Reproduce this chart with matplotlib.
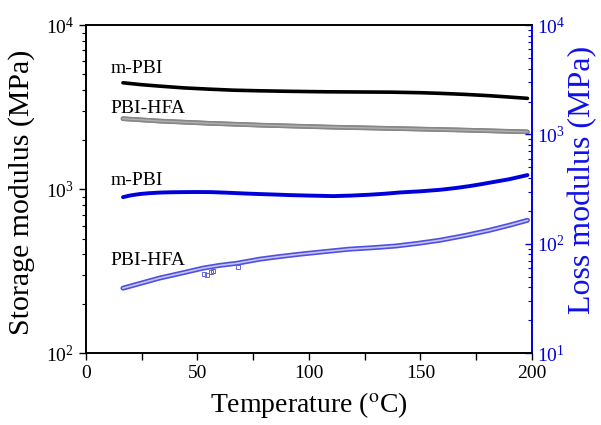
import matplotlib
matplotlib.use('Agg')
import matplotlib.pyplot as plt
import matplotlib.patheffects as pe
from matplotlib.ticker import LogLocator, FixedLocator, NullFormatter

plt.rcParams['font.family'] = 'Liberation Serif'
plt.rcParams['mathtext.fontset'] = 'stix'

# storage modulus (MPa), left axis
T_storage = [16.6, 25, 33, 44, 55, 66, 78, 92, 108, 122, 137, 150, 159, 170, 181, 190, 198]
E_mpbi = [4450, 4330, 4245, 4140, 4070, 4010, 3975, 3945, 3920, 3910, 3900, 3870, 3835,
          3780, 3710, 3640, 3575]
T_gray = [16.6, 33, 55, 78, 110, 137, 168, 198]
E_hfa = [2687, 2600, 2520, 2455, 2387, 2344, 2293, 2234]

# loss modulus (MPa), right axis
T_loss_mpbi = [16.6, 20, 24, 28, 33, 38, 44, 50, 56, 62, 67, 72, 78, 85, 91, 100, 111,
               119, 127, 134, 141, 150, 159, 166, 172, 177, 181, 190, 198]
L_mpbi = [267, 277, 285, 290, 294, 296, 297, 297.5, 297, 294, 291, 288, 285, 282, 279,
          276, 273, 276, 281, 287, 295, 302, 312, 324, 337, 350, 362, 390, 425]
T_loss_hfa = [16.6, 25, 33, 43, 52.5, 60, 68, 78, 87, 96, 107, 118, 129, 139, 149, 159,
              170, 181, 190, 198]
L_hfa = [39.3, 43.8, 48.6, 54.0, 59.9, 63.5, 66.5, 72.4, 76.5, 80.4, 84.8, 89.3, 92.2,
         95.5, 101, 108, 119, 133, 148, 164]
# scattered points near the glitches
T_glitch = [53, 54.5, 56, 57, 68]
L_glitch = [53, 51.5, 55, 57, 61]

blue = '#0000dd'

fig = plt.figure(figsize=(6.01, 4.25), dpi=100)
ax = fig.add_axes([0.143, 0.169, 0.742, 0.772])
ax2 = ax.twinx()

ax.plot(T_storage, E_mpbi, color='black', lw=2.6, solid_capstyle='round')
ax.plot(T_gray, E_hfa, color='#888888', lw=3.2,
        path_effects=[pe.Stroke(linewidth=3.4, foreground='#777777'),
                      pe.Normal()],
        solid_capstyle='round')
ax.plot(T_gray, E_hfa, color='#b0b0b0', lw=1.0)

ax2.plot(T_loss_mpbi, L_mpbi, color=blue, lw=2.8, solid_capstyle='round')
ax2.plot(T_loss_hfa, L_hfa, color='#5050e0', lw=3.6, solid_capstyle='round')
ax2.plot(T_loss_hfa, L_hfa, color='#c4c4f4', lw=1.2)
ax2.plot(T_glitch, L_glitch, ls='none', marker='s', ms=3.5, mfc='none',
         mec='#6060e0', mew=0.7)

ax.set_xlim(0, 200)
ax.set_yscale('log')
ax.set_ylim(100, 10000)
ax2.set_yscale('log')
ax2.set_ylim(10, 10000)

ax.set_xticks([0, 50, 100, 150, 200])
ax.xaxis.set_minor_locator(FixedLocator([25, 75, 125, 175]))
ax.yaxis.set_major_locator(LogLocator(base=10, numticks=10))
ax.yaxis.set_minor_locator(LogLocator(base=10, subs=range(2, 10), numticks=10))
ax.yaxis.set_minor_formatter(NullFormatter())
ax2.yaxis.set_major_locator(LogLocator(base=10, numticks=10))
ax2.yaxis.set_minor_locator(LogLocator(base=10, subs=range(2, 10), numticks=10))
ax2.yaxis.set_minor_formatter(NullFormatter())

ax.tick_params(axis='both', which='both', direction='out', labelsize=14,
               top=False, right=False)
ax.tick_params(axis='both', which='major', length=5, width=1)
ax.tick_params(axis='x', which='minor', length=5, width=1)
ax.tick_params(axis='y', which='minor', length=3, width=0.8)
ax2.tick_params(axis='y', which='both', direction='in', colors=blue,
                labelsize=14)
ax2.tick_params(axis='y', which='major', length=5, width=1)
ax2.tick_params(axis='y', which='minor', length=3, width=0.8)

for a in (ax, ax2):
    a.spines['right'].set_color(blue)
    a.spines['right'].set_linewidth(1.2)
    a.spines['left'].set_linewidth(1.2)
    a.spines['top'].set_linewidth(1.2)
    a.spines['bottom'].set_linewidth(1.2)

ax.set_xlabel(r'Temperature ($^{\rm o}$C)', fontsize=20, labelpad=6)
ax.set_ylabel('Storage modulus (MPa)', fontsize=21.5)
ax.yaxis.set_label_coords(-0.114, 0.49)
ax2.set_ylabel('Loss modulus (MPa)', fontsize=23, color='#1010e8')
ax2.yaxis.set_label_coords(1.08, 0.527)

ax.text(11, 5090, 'm-PBI', fontsize=14, va='baseline')
ax.text(11, 2905, 'PBI-HFA', fontsize=14, va='baseline')
ax.text(11, 1057, 'm-PBI', fontsize=14, va='baseline')
ax.text(11, 344, 'PBI-HFA', fontsize=14, va='baseline')

fig.savefig('out.png', dpi=100)
